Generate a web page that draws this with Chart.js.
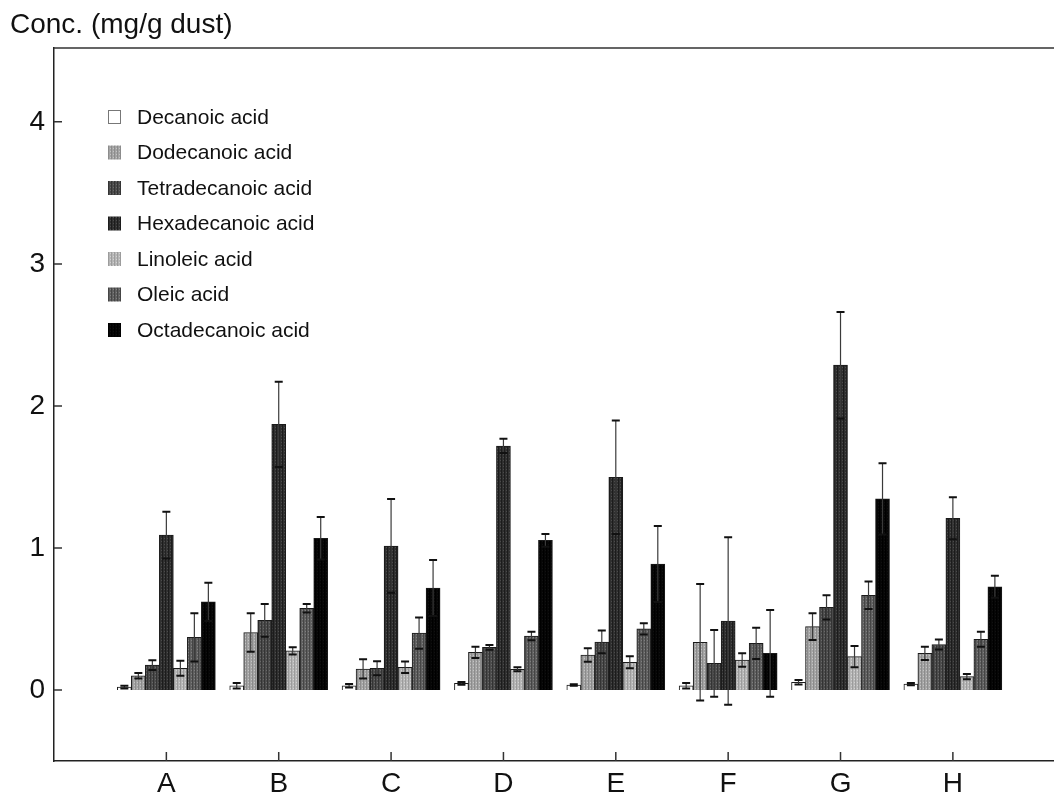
<!DOCTYPE html>
<html>
<head>
<meta charset="utf-8">
<title>Fatty acids in dust</title>
<script src="https://cdn.jsdelivr.net/npm/chart.js@4.4.1/dist/chart.umd.min.js"></script>
<style>
  html, body { margin: 0; padding: 0; background: #fff; overflow: hidden; }
  #wrap { width: 1054px; height: 793px; }
</style>
</head>
<body>
<div id="wrap"><canvas id="graph" width="1054" height="793"></canvas></div>
<script>
// values (mg/g dust), mean and error per dust sample
var categories = ["A", "B", "C", "D", "E", "F", "G", "H"];
var seriesNames = ["Decanoic acid", "Dodecanoic acid", "Tetradecanoic acid", "Hexadecanoic acid",
                   "Linoleic acid", "Oleic acid", "Octadecanoic acid"];

var decanoic         = [0.02, 0.03, 0.03, 0.047, 0.035, 0.03, 0.054, 0.042];
var decanoicErr      = [0.01, 0.02, 0.012, 0.01, 0.006, 0.02, 0.016, 0.008];
var dodecanoic       = [0.10, 0.405, 0.148, 0.265, 0.246, 0.336, 0.446, 0.258];
var dodecanoicErr    = [0.02, 0.135, 0.068, 0.04, 0.047, 0.41, 0.094, 0.047];
var tetradecanoic    = [0.175, 0.49, 0.153, 0.30, 0.338, 0.188, 0.582, 0.32];
var tetradecanoicErr = [0.035, 0.115, 0.05, 0.017, 0.08, 0.235, 0.085, 0.035];
var hexadecanoic     = [1.09, 1.87, 1.014, 1.718, 1.498, 0.486, 2.287, 1.209];
var hexadecanoicErr  = [0.165, 0.30, 0.33, 0.05, 0.40, 0.59, 0.375, 0.148];
var linoleic         = [0.153, 0.275, 0.16, 0.146, 0.195, 0.211, 0.235, 0.094];
var linoleicErr      = [0.053, 0.025, 0.04, 0.014, 0.042, 0.047, 0.075, 0.019];
var oleic            = [0.371, 0.575, 0.40, 0.38, 0.43, 0.328, 0.667, 0.357];
var oleicErr         = [0.17, 0.03, 0.11, 0.03, 0.04, 0.11, 0.096, 0.053];
var octadecanoic     = [0.62, 1.068, 0.718, 1.054, 0.887, 0.258, 1.345, 0.727];
var octadecanoicErr  = [0.135, 0.15, 0.197, 0.045, 0.268, 0.305, 0.251, 0.078];

var yTicks = [0, 1, 2, 3, 4];

var seriesValues = [decanoic, dodecanoic, tetradecanoic, hexadecanoic, linoleic, oleic, octadecanoic];
var seriesErrors = [decanoicErr, dodecanoicErr, tetradecanoicErr, hexadecanoicErr, linoleicErr, oleicErr, octadecanoicErr];

// grey halftone-ish fills: [base, dark stripe, light dot]
var shades = [
    ["#ffffff", "#ffffff", "#ffffff"],
    ["#a4a4a4", "#8c8c8c", "#c4c4c4"],
    ["#4c4c4c", "#343434", "#6a6a6a"],
    ["#303030", "#1c1c1c", "#4c4c4c"],
    ["#b6b6b6", "#9c9c9c", "#d2d2d2"],
    ["#606060", "#454545", "#808080"],
    ["#060606", "#000000", "#101010"]
];

function makePattern(s) {
    var c = document.createElement("canvas");
    c.width = 3; c.height = 3;
    var g = c.getContext("2d");
    g.fillStyle = s[0]; g.fillRect(0, 0, 3, 3);
    g.fillStyle = s[1]; g.fillRect(0, 0, 1, 3);
    g.fillStyle = s[2]; g.fillRect(2, 1, 1, 1);
    return g.createPattern(c, "repeat");
}

var fills = shades.map(makePattern);

var datasets = seriesNames.map(function(name, k) {
    return {
        label: name,
        data: seriesValues[k].map(function(v, i) { return { x: i + 1, y: v }; }),
        errors: seriesErrors[k],
        backgroundColor: fills[k],
        borderColor: "#1a1a1a",
        borderWidth: 1,
        barThickness: 14
    };
});

// error bars drawn with the chart's own scales
var errorBars = {
    id: "errorBars",
    afterDatasetsDraw: function(chart) {
        var ctx = chart.ctx, ys = chart.scales.y;
        ctx.save();
        chart.data.datasets.forEach(function(ds, k) {
            var meta = chart.getDatasetMeta(k);
            meta.data.forEach(function(bar, i) {
                var v = ds.data[i].y, e = ds.errors[i];
                var top = ys.getPixelForValue(v + e), bot = ys.getPixelForValue(v - e);
                ctx.strokeStyle = "#3a3a3a";
                ctx.lineWidth = 1.2;
                ctx.beginPath();
                ctx.moveTo(bar.x, top); ctx.lineTo(bar.x, bot);
                ctx.stroke();
                ctx.strokeStyle = "#111";
                ctx.lineWidth = 2;
                ctx.beginPath();
                ctx.moveTo(bar.x - 4, top); ctx.lineTo(bar.x + 4, top);
                ctx.moveTo(bar.x - 4, bot); ctx.lineTo(bar.x + 4, bot);
                ctx.stroke();
            });
        });
        ctx.restore();
    }
};

// frame top line, inward tick marks and legend inside the plot
var frame = {
    id: "frame",
    afterDraw: function(chart) {
        var ctx = chart.ctx, a = chart.chartArea;
        var xs = chart.scales.x, ys = chart.scales.y;
        ctx.save();
        ctx.strokeStyle = "#333";
        ctx.lineWidth = 1.5;
        ctx.beginPath();
        ctx.moveTo(a.left, a.top); ctx.lineTo(a.right, a.top);
        categories.forEach(function(c, i) {
            var px = xs.getPixelForValue(i + 1);
            ctx.moveTo(px, a.bottom); ctx.lineTo(px, a.bottom - 9);
        });
        yTicks.forEach(function(t) {
            var py = ys.getPixelForValue(t);
            ctx.moveTo(a.left, py); ctx.lineTo(a.left + 8, py);
        });
        ctx.stroke();

        ctx.font = "21px 'Liberation Sans', Arial, sans-serif";
        ctx.textBaseline = "middle";
        ctx.fillStyle = "#111";
        chart.data.datasets.forEach(function(ds, k) {
            var y = a.top + 69 + k * 35.5;
            var x = a.left + 54;
            ctx.fillStyle = ds.backgroundColor;
            ctx.fillRect(x, y - 7, 13, 14);
            if (k === 0) {
                ctx.strokeStyle = "#777";
                ctx.lineWidth = 1;
                ctx.strokeRect(x + 0.5, y - 6.5, 12, 13);
            }
            ctx.fillStyle = "#111";
            ctx.fillText(ds.label, x + 29, y + 1);
        });
        ctx.restore();
    }
};

var ctx = document.getElementById("graph").getContext("2d");

var chart = new Chart(ctx, {
    type: "bar",
    data: { datasets: datasets },
    options: {
        responsive: false,
        animation: false,
        devicePixelRatio: 1,
        layout: { padding: { left: 10, top: 0, right: 0, bottom: 0 } },
        plugins: {
            legend: { display: false },
            tooltip: { enabled: false },
            title: {
                display: true,
                text: "Conc. (mg/g dust)",
                align: "start",
                color: "#111",
                font: { family: "'Liberation Sans', Arial, sans-serif", size: 28, weight: "normal" },
                padding: { top: 8, bottom: 6.4 }
            }
        },
        scales: {
            x: {
                type: "linear",
                min: 0,
                max: 8.9,
                offset: false,
                grid: { display: false, drawTicks: false, offset: false },
                border: { display: true, color: "#222", width: 1.5 },
                ticks: {
                    stepSize: 1,
                    includeBounds: false,
                    padding: 6,
                    color: "#111",
                    font: { family: "'Liberation Sans', Arial, sans-serif", size: 28 },
                    callback: function(v) { return categories[v - 1] || ""; }
                },
                afterFit: function(scale) { scale.height = 32; }
            },
            y: {
                min: -0.5,
                max: 4.52,
                grid: { display: false, drawTicks: false },
                border: { display: true, color: "#222", width: 1.5 },
                ticks: {
                    stepSize: 1,
                    includeBounds: false,
                    padding: 9,
                    color: "#111",
                    font: { family: "'Liberation Sans', Arial, sans-serif", size: 28 }
                },
                afterFit: function(scale) { scale.width = 44; }
            }
        }
    },
    plugins: [errorBars, frame]
});
</script>
</body>
</html>
